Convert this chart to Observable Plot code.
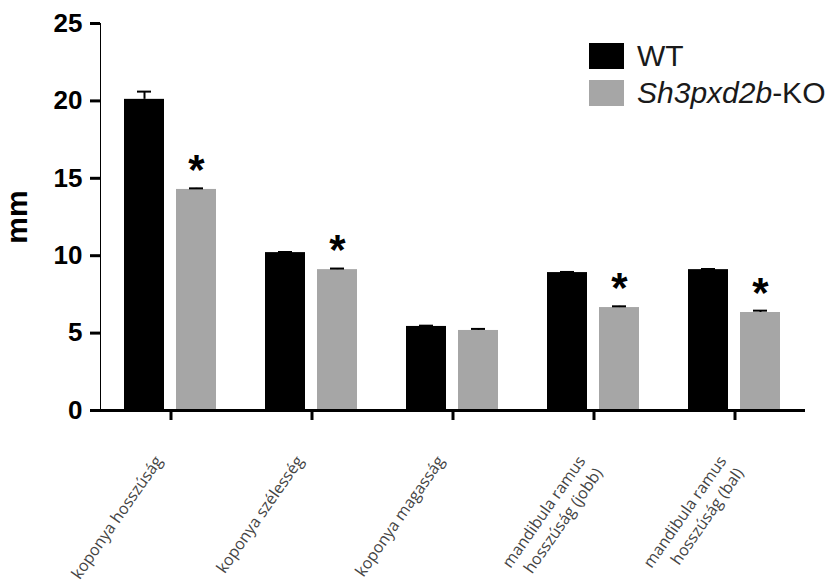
<!DOCTYPE html>
<html><head><meta charset="utf-8">
<script src="https://cdn.jsdelivr.net/npm/d3@7"></script>
<script src="https://cdn.jsdelivr.net/npm/@observablehq/plot@0.6"></script>
<style>
body{margin:0;background:#fff;}
#wrap{position:relative;width:833px;height:585px;overflow:hidden;}
.legend{position:absolute;left:589px;top:37px;font-family:"Liberation Sans",Arial,sans-serif;font-size:30px;color:#1a1a1a;}
.legend .row{display:flex;align-items:center;height:37px;}
.legend .sw{width:35px;height:26px;margin-right:13px;}
g[aria-label="y-axis tick label"] text{font-size:26px;font-weight:bold;}
g[aria-label="y-axis label"] text{font-size:30px;font-weight:bold;}
g[aria-label="y-axis tick"] path, g[aria-label="fx-axis tick"] path{stroke-width:3px;}
</style></head><body><div id="wrap"></div>
<script>
const categories = ["koponya hosszúság","koponya szélesség","koponya magasság","mandibula ramus\nhosszúság (jobb)","mandibula ramus\nhosszúság (bal)"];
const groups = ["WT","Sh3pxd2b-KO"];
const wtValues = [20.1, 10.2, 5.43, 8.91, 9.1];
const wtErrors = [0.5, 0.04, 0.05, 0.04, 0.04];
const koValues = [14.28, 9.1, 5.17, 6.65, 6.33];
const koErrors = [0.07, 0.07, 0.1, 0.08, 0.12];
const significant = [true, true, false, true, true];
const yTicks = [0, 5, 10, 15, 20, 25];
const colors = ["#000000", "#a6a6a6"];

const rows = categories.flatMap((c, i) => [
  {cat: c, group: groups[0], value: wtValues[i], err: wtErrors[i]},
  {cat: c, group: groups[1], value: koValues[i], err: koErrors[i]}
]);
const stars = categories.map((c, i) => ({cat: c, group: groups[1], value: koValues[i], sig: significant[i]})).filter(d => d.sig);

const plot = Plot.plot({
  width: 833, height: 585,
  marginLeft: 100, marginRight: 28, marginTop: 23, marginBottom: 175,
  style: {fontFamily: "Liberation Sans, Arial, sans-serif", background: "#fff", color: "#000"},
  fx: {domain: categories, padding: 0, label: null},
  x: {domain: groups, paddingInner: 0.226, paddingOuter: 0.45, axis: null},
  y: {domain: [0, 25], ticks: yTicks, tickSize: 10, tickPadding: 8, line: true, label: "mm", labelAnchor: "center", labelOffset: 95, labelArrow: false},
  color: {domain: groups, range: colors},
  marks: [
    Plot.barY(rows, {fx: "cat", x: "group", y: "value", fill: "group"}),
    Plot.ruleX(rows, {fx: "cat", x: "group", y1: "value", y2: d => d.value + d.err, stroke: "#000", strokeWidth: 2}),
    Plot.tickY(rows, {fx: "cat", x: "group", y: d => d.value + d.err, stroke: "#000", strokeWidth: 2, insetLeft: 13, insetRight: 13}),
    Plot.text(stars, {fx: "cat", x: "group", y: "value", text: () => "*", dy: -19, fontSize: 42, fontWeight: "bold"}),
    Plot.ruleY([0], {strokeWidth: 3}),
    Plot.axisFx({anchor: "bottom", tickSize: 10, text: null, label: null}),
    Plot.axisFx({anchor: "bottom", tickSize: 0, tickPadding: 36, tickRotate: -55, fontSize: 16, fontFamily: "Open Sans", fill: "#444", lineAnchor: "top", lineHeight: 1.3, textAnchor: "end", dx: -20, dy: 6, label: null})
  ]
});
document.getElementById("wrap").appendChild(plot);

const legend = document.createElement("div");
legend.className = "legend";
legend.innerHTML = groups.map((g, i) => {
  const label = i === 1 ? '<i>Sh3pxd2b</i>-KO' : g;
  return `<div class="row"><div class="sw" style="background:${colors[i]}"></div><span>${label}</span></div>`;
}).join("");
document.getElementById("wrap").appendChild(legend);
</script>
</body></html>
